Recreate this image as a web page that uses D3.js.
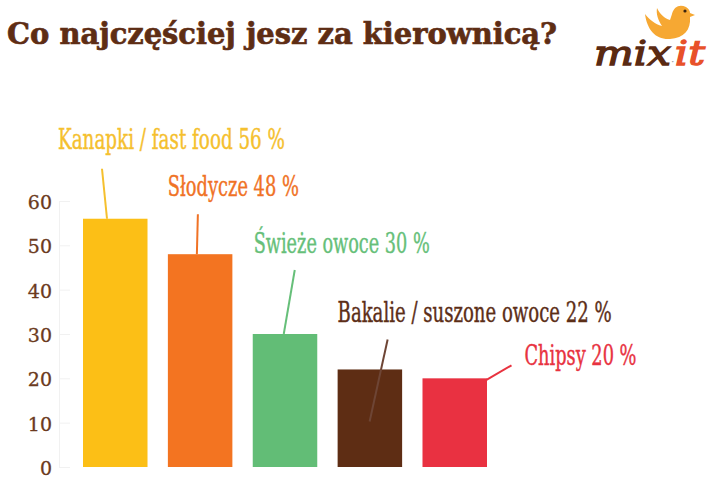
<!DOCTYPE html>
<html><head><meta charset="utf-8">
<script src="https://cdn.jsdelivr.net/npm/d3@7"></script>
<style>
html,body{margin:0;padding:0;background:#fff;}
svg{display:block;}
</style></head>
<body>
<svg id="chart" width="707" height="484"></svg>
<script>
// ---- data ----
const title = "Co najczęściej jesz za kierownicą?";
const categories = ["Kanapki / fast food", "Słodycze", "Świeże owoce", "Bakalie / suszone owoce", "Chipsy"];
const values = [56, 48, 30, 22, 20];
const barColors = ["#fcbf16", "#f37421", "#62bd76", "#5e2d14", "#e93141"];
const labelColors = ["#f5c02e", "#f07225", "#66bf79", "#5c2e17", "#e8323f"];
const yTicks = [0, 10, 20, 30, 40, 50, 60];

// ---- layout for annotations (relative to each bar) ----
const annot = [
  {lx: -25, ly: -70, w: 227, x1: 19, y1: -50, x2: 24, y2: 0},
  {lx: 0,   ly: -58, w: 131, x1: 30, y1: -40, x2: 29, y2: 0},
  {lx: 1,   ly: -81, w: 176, x1: 42, y1: -64, x2: 31, y2: 0},
  {lx: 0,   ly: -47, w: 274, x1: 50, y1: -30, x2: 32, y2: 52},
  {lx: 102, ly: -13, w: 112, x1: 89, y1: -13, x2: 64, y2: 1.5}
];

const svg = d3.select("#chart");

const x = d3.scaleBand().domain(categories).range([83, 487]).paddingInner(0.24).paddingOuter(0);
const y = d3.scaleLinear().domain([0, 60]).range([467, 201]);

// title
svg.append("text")
  .attr("x", 7).attr("y", 44)
  .attr("font-family", "'DejaVu Serif', serif")
  .attr("font-weight", "bold")
  .attr("font-size", 30)
  .attr("fill", "#5e2d14")
  .attr("stroke", "#5e2d14")
  .attr("stroke-width", 0.7)
  .attr("textLength", 550)
  .attr("lengthAdjust", "spacingAndGlyphs")
  .text(title);

// y axis
const yAxis = d3.axisLeft(y).tickValues(yTicks).tickSize(-11).tickPadding(18).tickSizeOuter(0);
const gy = svg.append("g").attr("transform", "translate(59,0)").call(yAxis);
gy.select(".domain").attr("stroke", "#f1f1f1").attr("stroke-width", 1);
gy.selectAll(".tick line").attr("stroke", "#f1f1f1");
gy.selectAll(".tick text")
  .attr("x", -7)
  .attr("dy", "0.4em")
  .attr("font-family", "'DejaVu Serif', serif")
  .attr("font-size", 19)
  .attr("fill", "#6b3a20")
  .attr("stroke", "#6b3a20")
  .attr("stroke-width", 0.3);

// bars
svg.append("g").selectAll("rect").data(values).join("rect")
  .attr("x", (d, i) => x(categories[i]))
  .attr("y", d => y(d))
  .attr("width", x.bandwidth())
  .attr("height", d => y(0) - y(d))
  .attr("fill", (d, i) => barColors[i]);

// leader lines
const leaderColors = ["#f5c02e", "#f07225", "#66bf79", "#6e4535", "#e8323f"];
svg.append("g").selectAll("line").data(values).join("line")
  .attr("x1", (d, i) => x(categories[i]) + annot[i].x1)
  .attr("y1", (d, i) => y(d) + annot[i].y1)
  .attr("x2", (d, i) => x(categories[i]) + annot[i].x2)
  .attr("y2", (d, i) => y(d) + annot[i].y2)
  .attr("stroke", (d, i) => leaderColors[i])
  .attr("stroke-width", 2);

// labels
svg.append("g").selectAll("text").data(values).join("text")
  .attr("x", (d, i) => x(categories[i]) + annot[i].lx)
  .attr("y", (d, i) => y(d) + annot[i].ly)
  .attr("font-family", "'DejaVu Serif Condensed', 'DejaVu Serif', serif")
  .attr("font-stretch", "condensed")
  .attr("font-size", 27)
  .attr("fill", (d, i) => labelColors[i])
  .attr("stroke", (d, i) => labelColors[i])
  .attr("stroke-width", 0.4)
  .attr("textLength", (d, i) => annot[i].w)
  .attr("lengthAdjust", "spacingAndGlyphs")
  .text((d, i) => categories[i] + " " + d + " %");

// logo
const logo = svg.append("g");
logo.append("path")
  .attr("d", "M645,14 C650,20 655,24 662,26 C658,20 656,14 657,8 C660,14 664,18 670,20 L672,14 C674,6 680,4 686,7 C689,9 690,11 690,13 L695,15 L690,17 C691,30 684,38 670,39 C656,40 647,30 645,14 Z")
  .attr("fill", "#f6a833");
logo.append("circle").attr("cx", 685).attr("cy", 11).attr("r", 1.6).attr("fill", "#3a2410");
const lt = logo.append("text")
  .attr("x", 594).attr("y", 65)
  .attr("font-family", "'DejaVu Serif', serif")
  .attr("font-style", "italic")
  .attr("font-size", 34)
  .attr("stroke-width", 1.3)
  .attr("textLength", 111)
  .attr("lengthAdjust", "spacingAndGlyphs");
lt.append("tspan").attr("fill", "#5a2a12").attr("stroke", "#5a2a12").text("mix");
lt.append("tspan").attr("fill", "#9a9a9a").attr("font-size", 10).text("·");
lt.append("tspan").attr("fill", "#e8512a").attr("stroke", "#e8512a").text("it");
</script>
</body></html>
